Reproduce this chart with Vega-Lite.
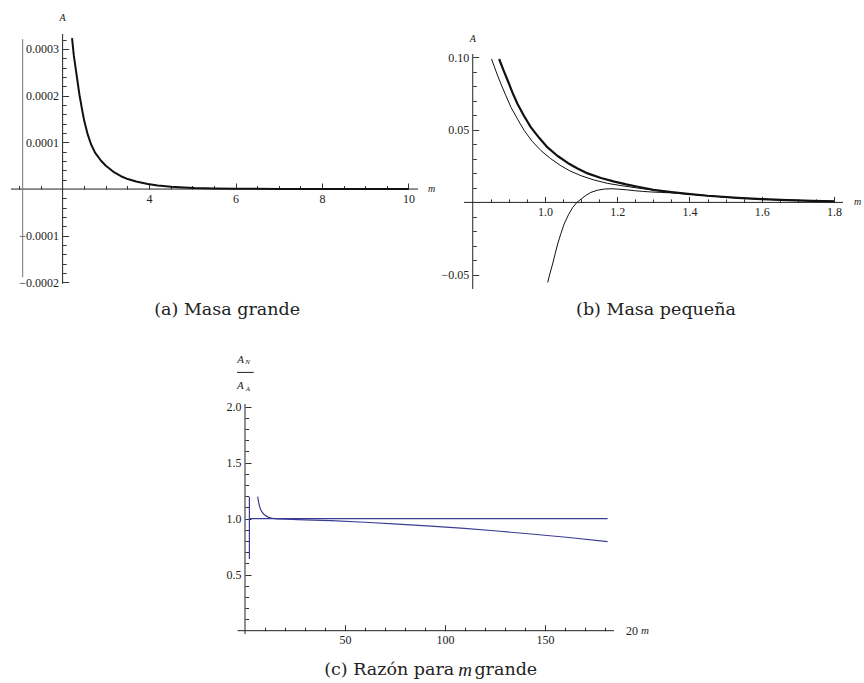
{
  "$schema": "https://vega.github.io/schema/vega-lite/v6.json",
  "background": "white",
  "padding": {"left": 10, "top": 12, "right": 0, "bottom": 0},
  "autosize": {"type": "pad"},
  "config": {
    "view": {"stroke": null},
    "axis": {"domain": false, "grid": false, "labelFont": "Liberation Serif", "labelFontSize": 12, "labelColor": "#222", "tickColor": "#333", "tickWidth": 1, "labelFlush": false, "labelOverlap": false}
  },
  "vconcat": [
    {
      "hconcat": [
        {
          "width": 407, "height": 255,
          "resolve": {"axis": {"x": "independent", "y": "independent"}},
          "layer": [
            {
              "data": {"values": [{"x1": 0.806, "x2": 10.22, "y1": 0, "y2": 0}, {"x1": 2, "x2": 2, "y1": -0.000203, "y2": 0.000332}]},
              "mark": {"type": "rule", "color": "#222", "strokeWidth": 1},
              "encoding": {
                "x": {"field": "x1", "type": "quantitative", "scale": {"domain": [0.806, 10.22], "nice": false, "zero": false},
                  "axis": {"orient": "bottom", "offset": -100, "values": [1, 1.5, 2.5, 3, 3.5, 4.5, 5, 5.5, 6.5, 7, 7.5, 8.5, 9, 9.5], "labels": false, "tickSize": -3.5, "title": null}},
                "x2": {"field": "x2"},
                "y": {"field": "y1", "type": "quantitative", "scale": {"domain": [-0.000214, 0.000332], "nice": false, "zero": false},
                  "axis": {"orient": "left", "offset": -51.6, "values": [-0.00018, -0.00016, -0.00014, -0.00012, -0.00008, -0.00006, -0.00004, -0.00002, 0.00002, 0.00004, 0.00006, 0.00008, 0.00012, 0.00014, 0.00016, 0.00018, 0.00022, 0.00024, 0.00026, 0.00028, 0.00032], "labels": false, "tickSize": -3.5, "title": null}},
                "y2": {"field": "y2"}
              }
            },
            {
              "data": {"values": [{"x1": 1.076, "y1": -0.000189, "y2": 0.000321}]},
              "mark": {"type": "rule", "color": "#777", "strokeWidth": 1},
              "encoding": {
                "x": {"field": "x1", "type": "quantitative", "scale": {"domain": [0.806, 10.22], "nice": false, "zero": false}, "axis": null},
                "y": {"field": "y1", "type": "quantitative", "scale": {"domain": [-0.000214, 0.000332], "nice": false, "zero": false}, "axis": null},
                "y2": {"field": "y2"}
              }
            },
            {
              "data": {"values": [
                {"m": 2.218, "A": 0.000323}, {"m": 2.26, "A": 0.000285}, {"m": 2.31, "A": 0.000253}, {"m": 2.387, "A": 0.000203},
                {"m": 2.45, "A": 0.00017}, {"m": 2.5, "A": 0.000146}, {"m": 2.58, "A": 0.000117}, {"m": 2.657, "A": 0.000096},
                {"m": 2.75, "A": 0.000078}, {"m": 2.889, "A": 0.0000606}, {"m": 3.0, "A": 0.00005}, {"m": 3.197, "A": 0.0000355},
                {"m": 3.35, "A": 0.0000275}, {"m": 3.507, "A": 0.0000214}, {"m": 3.7, "A": 0.000016}, {"m": 3.97, "A": 0.0000107},
                {"m": 4.2, "A": 0.0000076}, {"m": 4.51, "A": 0.0000049}, {"m": 4.8, "A": 0.0000032}, {"m": 5.05, "A": 0.0000021},
                {"m": 5.5, "A": 0.0000012}, {"m": 6.0, "A": 0.0000006}, {"m": 7.0, "A": 0.0000002}, {"m": 8.0, "A": 0.0000001},
                {"m": 9.0, "A": 0}, {"m": 10.0, "A": 0}
              ]},
              "mark": {"type": "line", "color": "#111", "strokeWidth": 2, "strokeJoin": "round"},
              "encoding": {
                "x": {"field": "m", "type": "quantitative", "scale": {"domain": [0.806, 10.22], "nice": false, "zero": false},
                  "axis": {"orient": "bottom", "offset": -100, "values": [4, 6, 8, 10], "format": "d", "tickSize": -6, "labelPadding": 10, "title": null}},
                "y": {"field": "A", "type": "quantitative", "scale": {"domain": [-0.000214, 0.000332], "nice": false, "zero": false},
                  "axis": {"orient": "left", "offset": -51.6, "values": [-0.0002, -0.0001, 0.0001, 0.0002, 0.0003], "format": ".4f", "tickSize": -6, "labelPadding": 10, "title": null}}
              }
            },
            {
              "data": {"values": [{}]},
              "mark": {"type": "text", "text": "A", "font": "Liberation Serif", "fontStyle": "italic", "fontSize": 10, "baseline": "top", "align": "center", "dy": -21.3, "color": "#222"},
              "encoding": {
                "x": {"datum": 2, "type": "quantitative", "scale": {"domain": [0.806, 10.22], "nice": false, "zero": false}, "axis": null},
                "y": {"datum": 0.000332, "type": "quantitative", "scale": {"domain": [-0.000214, 0.000332], "nice": false, "zero": false}, "axis": null}
              }
            },
            {
              "data": {"values": [{}]},
              "mark": {"type": "text", "text": "m", "font": "Liberation Serif", "fontStyle": "italic", "fontSize": 10, "baseline": "middle", "align": "left", "dx": 10, "color": "#222"},
              "encoding": {
                "x": {"datum": 10.22, "type": "quantitative", "scale": {"domain": [0.806, 10.22], "nice": false, "zero": false}, "axis": null},
                "y": {"datum": 0, "type": "quantitative", "scale": {"domain": [-0.000214, 0.000332], "nice": false, "zero": false}, "axis": null}
              }
            },
            {
              "data": {"values": [{}]},
              "mark": {"type": "text", "text": "(a) Masa grande", "font": "DejaVu Serif", "fontSize": 17.5, "baseline": "middle", "align": "center", "color": "#222"},
              "encoding": {
                "x": {"datum": 5.806, "type": "quantitative", "scale": {"domain": [0.806, 10.22], "nice": false, "zero": false}, "axis": null},
                "y": {"datum": -0.0002585, "type": "quantitative", "scale": {"domain": [-0.000214, 0.000332], "nice": false, "zero": false}, "axis": null}
              }
            }
          ]
        },
        {
          "width": 379, "height": 255,
          "resolve": {"axis": {"x": "independent", "y": "independent"}},
          "layer": [
            {
              "data": {"values": [{"x1": 0.7758, "x2": 1.8249, "y1": 0, "y2": 0}, {"x1": 0.8, "x2": 0.8, "y1": -0.0597, "y2": 0.1023}]},
              "mark": {"type": "rule", "color": "#222", "strokeWidth": 1},
              "encoding": {
                "x": {"field": "x1", "type": "quantitative", "scale": {"domain": [0.7758, 1.8249], "nice": false, "zero": false},
                  "axis": {"orient": "bottom", "offset": -86.6, "values": [0.85, 0.9, 0.95, 1.05, 1.1, 1.15, 1.25, 1.3, 1.35, 1.45, 1.5, 1.55, 1.65, 1.7, 1.75], "labels": false, "tickSize": -3.5, "title": null}},
                "x2": {"field": "x2"},
                "y": {"field": "y1", "type": "quantitative", "scale": {"domain": [-0.05972, 0.11614], "nice": false, "zero": false},
                  "axis": {"orient": "left", "offset": -8.75, "values": [-0.04, -0.03, -0.02, -0.01, 0.01, 0.02, 0.03, 0.04, 0.06, 0.07, 0.08, 0.09], "labels": false, "tickSize": -3.5, "title": null}},
                "y2": {"field": "y2"}
              }
            },
            {
              "data": {"name": "bdata", "values": [
                {"s": "thin", "m": 0.852, "A": 0.0989}, {"s": "thin", "m": 0.865, "A": 0.09}, {"s": "thin", "m": 0.878, "A": 0.0817}, {"s": "thin", "m": 0.892, "A": 0.0735},
                {"s": "thin", "m": 0.906, "A": 0.0655}, {"s": "thin", "m": 0.925, "A": 0.057}, {"s": "thin", "m": 0.943, "A": 0.0494}, {"s": "thin", "m": 0.965, "A": 0.042},
                {"s": "thin", "m": 0.989, "A": 0.0357}, {"s": "thin", "m": 1.015, "A": 0.0303}, {"s": "thin", "m": 1.044, "A": 0.0253}, {"s": "thin", "m": 1.07, "A": 0.0216},
                {"s": "thin", "m": 1.1, "A": 0.0184}, {"s": "thin", "m": 1.135, "A": 0.0155}, {"s": "thin", "m": 1.174, "A": 0.0131}, {"s": "thin", "m": 1.21, "A": 0.0116},
                {"s": "thin", "m": 1.257, "A": 0.0099}, {"s": "thin", "m": 1.3, "A": 0.0084}, {"s": "thin", "m": 1.35, "A": 0.007}, {"s": "thin", "m": 1.395, "A": 0.0058},
                {"s": "thin", "m": 1.45, "A": 0.0046}, {"s": "thin", "m": 1.533, "A": 0.0031}, {"s": "thin", "m": 1.6, "A": 0.0022}, {"s": "thin", "m": 1.672, "A": 0.0016},
                {"s": "thin", "m": 1.74, "A": 0.0011}, {"s": "thin", "m": 1.8, "A": 0.0007},
                {"s": "thick", "m": 0.873, "A": 0.0989}, {"s": "thick", "m": 0.885, "A": 0.0912}, {"s": "thick", "m": 0.897, "A": 0.0839}, {"s": "thick", "m": 0.91, "A": 0.0757},
                {"s": "thick", "m": 0.924, "A": 0.0679}, {"s": "thick", "m": 0.942, "A": 0.0596}, {"s": "thick", "m": 0.961, "A": 0.0517}, {"s": "thick", "m": 0.985, "A": 0.0442},
                {"s": "thick", "m": 1.007, "A": 0.0379}, {"s": "thick", "m": 1.035, "A": 0.032}, {"s": "thick", "m": 1.063, "A": 0.0272}, {"s": "thick", "m": 1.09, "A": 0.0234},
                {"s": "thick", "m": 1.118, "A": 0.02}, {"s": "thick", "m": 1.155, "A": 0.0168}, {"s": "thick", "m": 1.192, "A": 0.0143}, {"s": "thick", "m": 1.225, "A": 0.0124},
                {"s": "thick", "m": 1.257, "A": 0.0108}, {"s": "thick", "m": 1.3, "A": 0.0087}, {"s": "thick", "m": 1.35, "A": 0.0071}, {"s": "thick", "m": 1.395, "A": 0.0059},
                {"s": "thick", "m": 1.45, "A": 0.0046}, {"s": "thick", "m": 1.533, "A": 0.0031}, {"s": "thick", "m": 1.6, "A": 0.0022}, {"s": "thick", "m": 1.672, "A": 0.0016},
                {"s": "thick", "m": 1.74, "A": 0.0011}, {"s": "thick", "m": 1.8, "A": 0.0007},
                {"s": "third", "m": 1.0075, "A": -0.0552}, {"s": "third", "m": 1.014, "A": -0.0488}, {"s": "third", "m": 1.021, "A": -0.0425}, {"s": "third", "m": 1.028, "A": -0.0355},
                {"s": "third", "m": 1.035, "A": -0.0287}, {"s": "third", "m": 1.044, "A": -0.0215}, {"s": "third", "m": 1.053, "A": -0.0149}, {"s": "third", "m": 1.065, "A": -0.0085},
                {"s": "third", "m": 1.077, "A": -0.0034}, {"s": "third", "m": 1.088, "A": -0.0001}, {"s": "third", "m": 1.1, "A": 0.0023}, {"s": "third", "m": 1.113, "A": 0.0048},
                {"s": "third", "m": 1.127, "A": 0.0069}, {"s": "third", "m": 1.145, "A": 0.0084}, {"s": "third", "m": 1.164, "A": 0.0092}, {"s": "third", "m": 1.183, "A": 0.0094},
                {"s": "third", "m": 1.201, "A": 0.0092}, {"s": "third", "m": 1.225, "A": 0.0087}, {"s": "third", "m": 1.247, "A": 0.0081}, {"s": "third", "m": 1.27, "A": 0.0076},
                {"s": "third", "m": 1.293, "A": 0.0072}, {"s": "third", "m": 1.32, "A": 0.0069}, {"s": "third", "m": 1.35, "A": 0.0066}, {"s": "third", "m": 1.395, "A": 0.0058},
                {"s": "third", "m": 1.45, "A": 0.0046}, {"s": "third", "m": 1.533, "A": 0.0031}, {"s": "third", "m": 1.6, "A": 0.0022}, {"s": "third", "m": 1.672, "A": 0.0016},
                {"s": "third", "m": 1.74, "A": 0.0011}, {"s": "third", "m": 1.8, "A": 0.0007}
              ]},
              "transform": [{"filter": "datum.s === 'thin'"}],
              "mark": {"type": "line", "color": "#111", "strokeWidth": 1, "strokeJoin": "round"},
              "encoding": {
                "x": {"field": "m", "type": "quantitative", "scale": {"domain": [0.7758, 1.8249], "nice": false, "zero": false},
                  "axis": {"orient": "bottom", "offset": -86.6, "values": [1.0, 1.2, 1.4, 1.6, 1.8], "format": ".1f", "tickSize": -6, "labelPadding": 10, "title": null}},
                "y": {"field": "A", "type": "quantitative", "scale": {"domain": [-0.05972, 0.11614], "nice": false, "zero": false},
                  "axis": {"orient": "left", "offset": -8.75, "values": [-0.05, 0.05, 0.1], "format": ".2f", "tickSize": -6, "labelPadding": 10, "title": null}}
              }
            },
            {
              "data": {"name": "bdata"},
              "transform": [{"filter": "datum.s === 'thick'"}],
              "mark": {"type": "line", "color": "#111", "strokeWidth": 2.2, "strokeJoin": "round"},
              "encoding": {
                "x": {"field": "m", "type": "quantitative", "scale": {"domain": [0.7758, 1.8249], "nice": false, "zero": false}, "axis": null},
                "y": {"field": "A", "type": "quantitative", "scale": {"domain": [-0.05972, 0.11614], "nice": false, "zero": false}, "axis": null}
              }
            },
            {
              "data": {"name": "bdata"},
              "transform": [{"filter": "datum.s === 'third'"}],
              "mark": {"type": "line", "color": "#111", "strokeWidth": 1, "strokeJoin": "round"},
              "encoding": {
                "x": {"field": "m", "type": "quantitative", "scale": {"domain": [0.7758, 1.8249], "nice": false, "zero": false}, "axis": null},
                "y": {"field": "A", "type": "quantitative", "scale": {"domain": [-0.05972, 0.11614], "nice": false, "zero": false}, "axis": null}
              }
            },
            {
              "data": {"values": [{}]},
              "mark": {"type": "text", "text": "A", "font": "Liberation Serif", "fontStyle": "italic", "fontSize": 10, "baseline": "top", "align": "center", "dy": -19.6, "color": "#222"},
              "encoding": {
                "x": {"datum": 0.8, "type": "quantitative", "scale": {"domain": [0.7758, 1.8249], "nice": false, "zero": false}, "axis": null},
                "y": {"datum": 0.1023, "type": "quantitative", "scale": {"domain": [-0.05972, 0.11614], "nice": false, "zero": false}, "axis": null}
              }
            },
            {
              "data": {"values": [{}]},
              "mark": {"type": "text", "text": "m", "font": "Liberation Serif", "fontStyle": "italic", "fontSize": 10, "baseline": "middle", "align": "left", "dx": 11, "color": "#222"},
              "encoding": {
                "x": {"datum": 1.8249, "type": "quantitative", "scale": {"domain": [0.7758, 1.8249], "nice": false, "zero": false}, "axis": null},
                "y": {"datum": 0, "type": "quantitative", "scale": {"domain": [-0.05972, 0.11614], "nice": false, "zero": false}, "axis": null}
              }
            },
            {
              "data": {"values": [{}]},
              "mark": {"type": "text", "text": "(b) Masa pequeña", "font": "DejaVu Serif", "fontSize": 17.5, "baseline": "middle", "align": "center", "color": "#222"},
              "encoding": {
                "x": {"datum": 1.3073, "type": "quantitative", "scale": {"domain": [0.7758, 1.8249], "nice": false, "zero": false}, "axis": null},
                "y": {"datum": -0.074, "type": "quantitative", "scale": {"domain": [-0.05972, 0.11614], "nice": false, "zero": false}, "axis": null}
              }
            }
          ]
        }
      ],
      "spacing": 46,
      "bounds": "flush"
    },
    {
      "width": 603, "height": 230,
      "resolve": {"axis": {"x": "independent", "y": "independent"}},
      "layer": [
        {
          "data": {"values": [{"x1": -3.65, "x2": 184.5, "y1": 0, "y2": 0}, {"x1": 0, "x2": 0, "y1": -0.0297, "y2": 2.024}, {"x1": -4, "x2": 4.35, "y1": 2.306, "y2": 2.306}]},
          "mark": {"type": "rule", "color": "#222", "strokeWidth": 1},
          "encoding": {
            "x": {"field": "x1", "type": "quantitative", "scale": {"domain": [-117, 184.5], "nice": false, "zero": false},
              "axis": {"orient": "bottom", "offset": -3.3, "values": [10, 20, 30, 40, 60, 70, 80, 90, 110, 120, 130, 140, 160, 170, 180], "labels": false, "tickSize": -3.5, "title": null}},
            "x2": {"field": "x2"},
            "y": {"field": "y1", "type": "quantitative", "scale": {"domain": [-0.0297, 2.024], "nice": false, "zero": false},
              "axis": {"orient": "left", "offset": -234, "values": [0.1, 0.2, 0.3, 0.4, 0.6, 0.7, 0.8, 0.9, 1.1, 1.2, 1.3, 1.4, 1.6, 1.7, 1.8, 1.9], "labels": false, "tickSize": -3.5, "title": null}},
            "y2": {"field": "y2"}
          }
        },
        {
          "data": {"values": [
            {"s": "curve", "m": 6.3, "r": 1.196}, {"s": "curve", "m": 7.0, "r": 1.13}, {"s": "curve", "m": 7.7, "r": 1.086}, {"s": "curve", "m": 8.5, "r": 1.06},
            {"s": "curve", "m": 9.3, "r": 1.042}, {"s": "curve", "m": 10.5, "r": 1.025}, {"s": "curve", "m": 11.8, "r": 1.012}, {"s": "curve", "m": 14, "r": 1.002},
            {"s": "curve", "m": 16, "r": 0.998}, {"s": "curve", "m": 20, "r": 0.996}, {"s": "curve", "m": 30, "r": 0.99}, {"s": "curve", "m": 43, "r": 0.982},
            {"s": "curve", "m": 60, "r": 0.968}, {"s": "curve", "m": 76.3, "r": 0.952}, {"s": "curve", "m": 93, "r": 0.934}, {"s": "curve", "m": 109.7, "r": 0.914},
            {"s": "curve", "m": 126, "r": 0.89}, {"s": "curve", "m": 143, "r": 0.863}, {"s": "curve", "m": 162, "r": 0.832}, {"s": "curve", "m": 181.3, "r": 0.795},
            {"s": "unity", "m": 2.2, "r": 1.0}, {"s": "unity", "m": 181.3, "r": 1.0},
            {"s": "pole", "m": 2.2, "r": 0.64}, {"s": "pole", "m": 2.2, "r": 1.196}
          ]},
          "mark": {"type": "line", "color": "#3c3c96", "strokeWidth": 1.2},
          "encoding": {
            "detail": {"field": "s", "type": "nominal"},
            "x": {"field": "m", "type": "quantitative", "scale": {"domain": [-117, 184.5], "nice": false, "zero": false},
              "axis": {"orient": "bottom", "offset": -3.3, "values": [50, 100, 150], "format": "d", "tickSize": -6, "labelPadding": 10, "title": null}},
            "y": {"field": "r", "type": "quantitative", "scale": {"domain": [-0.0297, 2.024], "nice": false, "zero": false},
              "axis": {"orient": "left", "offset": -234, "values": [0.5, 1.0, 1.5, 2.0], "format": ".1f", "tickSize": -6, "labelPadding": 10, "title": null}}
          }
        },
        {
          "data": {"values": [{}]},
          "mark": {"type": "text", "text": "A", "font": "Liberation Serif", "fontStyle": "italic", "fontSize": 11, "baseline": "middle", "align": "center", "dx": -4.3, "dy": -12.5, "color": "#222"},
          "encoding": {
            "x": {"datum": 0, "type": "quantitative", "scale": {"domain": [-117, 184.5], "nice": false, "zero": false}, "axis": null},
            "y": {"datum": 2.306, "type": "quantitative", "scale": {"domain": [-0.0297, 2.024], "nice": false, "zero": false}, "axis": null}
          }
        },
        {
          "data": {"values": [{}]},
          "mark": {"type": "text", "text": "N", "font": "Liberation Serif", "fontStyle": "italic", "fontSize": 7, "baseline": "middle", "align": "center", "dx": 2.6, "dy": -10, "color": "#222"},
          "encoding": {
            "x": {"datum": 0, "type": "quantitative", "scale": {"domain": [-117, 184.5], "nice": false, "zero": false}, "axis": null},
            "y": {"datum": 2.306, "type": "quantitative", "scale": {"domain": [-0.0297, 2.024], "nice": false, "zero": false}, "axis": null}
          }
        },
        {
          "data": {"values": [{}]},
          "mark": {"type": "text", "text": "A", "font": "Liberation Serif", "fontStyle": "italic", "fontSize": 11, "baseline": "middle", "align": "center", "dx": -4.7, "dy": 14, "color": "#222"},
          "encoding": {
            "x": {"datum": 0, "type": "quantitative", "scale": {"domain": [-117, 184.5], "nice": false, "zero": false}, "axis": null},
            "y": {"datum": 2.306, "type": "quantitative", "scale": {"domain": [-0.0297, 2.024], "nice": false, "zero": false}, "axis": null}
          }
        },
        {
          "data": {"values": [{}]},
          "mark": {"type": "text", "text": "A", "font": "Liberation Serif", "fontStyle": "italic", "fontSize": 7, "baseline": "middle", "align": "center", "dx": 2.8, "dy": 16.6, "color": "#222"},
          "encoding": {
            "x": {"datum": 0, "type": "quantitative", "scale": {"domain": [-117, 184.5], "nice": false, "zero": false}, "axis": null},
            "y": {"datum": 2.306, "type": "quantitative", "scale": {"domain": [-0.0297, 2.024], "nice": false, "zero": false}, "axis": null}
          }
        },
        {
          "data": {"values": [{}]},
          "mark": {"type": "text", "text": "20", "font": "Liberation Serif", "fontSize": 12, "baseline": "middle", "align": "left", "dx": 12, "color": "#222"},
          "encoding": {
            "x": {"datum": 184.5, "type": "quantitative", "scale": {"domain": [-117, 184.5], "nice": false, "zero": false}, "axis": null},
            "y": {"datum": 0, "type": "quantitative", "scale": {"domain": [-0.0297, 2.024], "nice": false, "zero": false}, "axis": null}
          }
        },
        {
          "data": {"values": [{}]},
          "mark": {"type": "text", "text": "m", "font": "Liberation Serif", "fontStyle": "italic", "fontSize": 11, "baseline": "middle", "align": "left", "dx": 27, "color": "#222"},
          "encoding": {
            "x": {"datum": 184.5, "type": "quantitative", "scale": {"domain": [-117, 184.5], "nice": false, "zero": false}, "axis": null},
            "y": {"datum": 0, "type": "quantitative", "scale": {"domain": [-0.0297, 2.024], "nice": false, "zero": false}, "axis": null}
          }
        },
        {
          "data": {"values": [{}]},
          "mark": {"type": "text", "text": "(c) Razón para", "font": "DejaVu Serif", "fontSize": 17.5, "baseline": "middle", "align": "right", "color": "#222"},
          "encoding": {
            "x": {"datum": 104.6, "type": "quantitative", "scale": {"domain": [-117, 184.5], "nice": false, "zero": false}, "axis": null},
            "y": {"datum": -0.348, "type": "quantitative", "scale": {"domain": [-0.0297, 2.024], "nice": false, "zero": false}, "axis": null}
          }
        },
        {
          "data": {"values": [{}]},
          "mark": {"type": "text", "text": "m", "font": "Liberation Serif", "fontStyle": "italic", "fontSize": 19, "baseline": "middle", "align": "center", "color": "#222"},
          "encoding": {
            "x": {"datum": 110, "type": "quantitative", "scale": {"domain": [-117, 184.5], "nice": false, "zero": false}, "axis": null},
            "y": {"datum": -0.348, "type": "quantitative", "scale": {"domain": [-0.0297, 2.024], "nice": false, "zero": false}, "axis": null}
          }
        },
        {
          "data": {"values": [{}]},
          "mark": {"type": "text", "text": "grande", "font": "DejaVu Serif", "fontSize": 17.5, "baseline": "middle", "align": "left", "color": "#222"},
          "encoding": {
            "x": {"datum": 114.7, "type": "quantitative", "scale": {"domain": [-117, 184.5], "nice": false, "zero": false}, "axis": null},
            "y": {"datum": -0.348, "type": "quantitative", "scale": {"domain": [-0.0297, 2.024], "nice": false, "zero": false}, "axis": null}
          }
        }
      ]
    }
  ],
  "spacing": 370,
  "bounds": "flush"
}
